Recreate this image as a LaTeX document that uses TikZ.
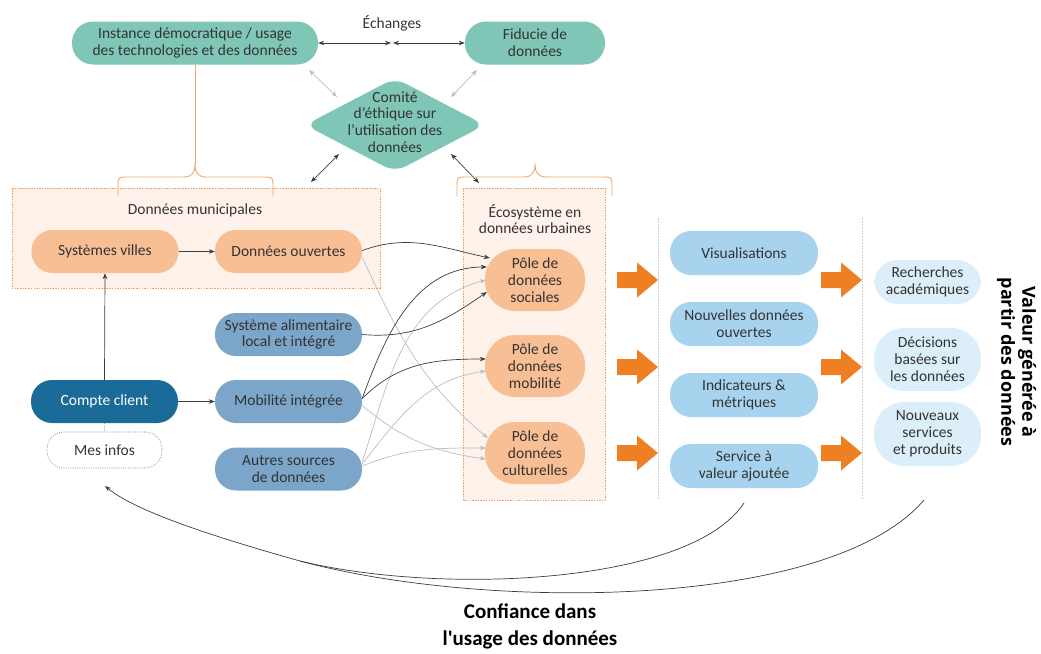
\documentclass[tikz,border=0pt]{standalone}
\usepackage{fontspec}
\setmainfont{Carlito}
\newfontfamily\opensans{Open Sans}
\newfontfamily\plaincarlito{Carlito}[Ligatures=TeXOff]
\usetikzlibrary{arrows.meta,shapes.geometric,calc}

\definecolor{cText}{HTML}{333333}
\definecolor{cTeal}{HTML}{80C6B6}
\definecolor{cPeach}{HTML}{F8BE94}
\definecolor{cPeachBg}{HTML}{FEF2EA}
\definecolor{cFrame}{HTML}{F2A060}
\definecolor{cBrace}{HTML}{F2A766}
\definecolor{cSrc}{HTML}{7BA6C9}
\definecolor{cClient}{HTML}{1B6B98}
\definecolor{cOut}{HTML}{A8D3EE}
\definecolor{cValue}{HTML}{DCEEF9}
\definecolor{cBlock}{HTML}{EE7F22}
\definecolor{cDark}{HTML}{3C3C3C}
\definecolor{cLight}{HTML}{BDBDBD}
\definecolor{cSep}{HTML}{D0D0D0}
\definecolor{cInfo}{HTML}{5B8DB8}

\tikzset{
  pill/.style={rounded corners=21pt, minimum width=147pt, minimum height=43pt,
    align=center, inner sep=2pt, text=cText},
  teal pill/.style={pill, fill=cTeal},
  peach pill/.style={pill, fill=cPeach},
  src pill/.style={pill, fill=cSrc},
  out pill/.style={pill, fill=cOut, minimum width=148pt, minimum height=44pt},
  value pill/.style={pill, fill=cValue, minimum width=107pt, rounded corners=24pt},
  hub/.style={rounded corners=30pt, minimum width=100pt, minimum height=62pt,
    align=center, inner sep=1pt, fill=cPeach, text=cText},
  frame/.style={draw=cFrame, fill=cPeachBg, line width=0.6pt,
    dash pattern=on 1.5pt off 1.2pt},
  bracket/.style={draw=cBrace, line width=0.9pt},
  dk/.style={draw=cDark, line width=0.7pt, -{Stealth[length=6pt,width=4.5pt]}},
  dkline/.style={draw=cDark, line width=0.7pt},
  dkboth/.style={draw=cDark, line width=0.7pt,
    {Stealth[length=6pt,width=4.5pt]}-{Stealth[length=6pt,width=4.5pt]}},
  grboth/.style={draw=cLight, line width=0.7pt,
    {Stealth[length=6pt,width=4.5pt]}-{Stealth[length=6pt,width=4.5pt]}},
  gr/.style={draw=cLight, line width=0.7pt, -{Stealth[length=6pt,width=4.5pt]}},
  sep/.style={draw=cSep, line width=0.6pt, dash pattern=on 1.5pt off 1.5pt},
  block/.style={fill=cBlock},
}

\begin{document}
\begin{tikzpicture}[x=1pt, y=-1pt, font=\fontsize{15.5}{16.8}\selectfont, text=cText]
\useasboundingbox (0,0) rectangle (1041,653);

% ---- framed groups
\draw[frame] (12,188) rectangle (380,288);
\draw[frame] (463,188) rectangle (605,500);
\node (lblmun) at (195,210) {Données municipales};
\node[align=center] (lbleco) at (535,219) {Écosystème en\\données urbaines};

% ---- governance
\node[teal pill, minimum width=246pt] (inst) at (195,43)
  {Instance démocratique / usage\\des technologies et des données};
\node[teal pill, minimum width=140pt] (fid) at (535,43) {Fiducie de\\données};
\node (ech) at (392,23) {Échanges};
\coordinate (mid) at (392,43);
\draw[dkboth] (inst.east) -- ([xshift=-1pt]mid);
\draw[dkboth] ([xshift=1pt]mid) -- (fid.west);

\node[diamond, fill=cTeal, rounded corners=12pt, minimum width=180pt,
  minimum height=94pt, inner sep=0pt] (comite) at (395,125) {};
\node[align=center] (comtxt) at (395,122)
  {Comité\\d’éthique sur\\l’utilisation des\\données};

\coordinate (ga1) at (309,70);  \coordinate (ga2) at (337,97);
\coordinate (gb1) at (477,70);  \coordinate (gb2) at (451,97);
\coordinate (da1) at (339,154); \coordinate (da2) at (311,182);
\coordinate (db1) at (451,154); \coordinate (db2) at (479,183);
\draw[grboth] (ga1) -- (ga2);
\draw[grboth] (gb1) -- (gb2);
\draw[dkboth] (da1) -- (da2);
\draw[dkboth] (db1) -- (db2);

% ---- brackets
\coordinate (tipA) at (195,165);
\draw[bracket] (inst.south) -- (tipA);
\draw[bracket] (118,196) -- (118,187) .. controls (118,177) .. (128,177)
  -- (184,177) .. controls (192,177) and (195,172) .. (tipA)
  .. controls (195,172) and (198,177) .. (206,177) -- (263,177)
  .. controls (273,177) .. (273,187) -- (273,196);
\coordinate (tipB) at (535,165);
\draw[bracket] (457,196) -- (457,187) .. controls (457,177) .. (467,177)
  -- (524,177) .. controls (532,177) and (535,172) .. (tipB)
  .. controls (535,172) and (538,177) .. (546,177) -- (602,177)
  .. controls (612,177) .. (612,187) -- (612,196);

% ---- municipal data and sources
\node[peach pill] (sv) at (105,251.5) {Systèmes villes};
\node[peach pill] (do) at (288.5,251.5) {Données ouvertes};
\node[src pill] (fa) at (288.5,334.5) {Système alimentaire\\local et intégré};
\node[src pill] (mi) at (288.5,401.5) {Mobilité intégrée};
\node[src pill] (as) at (288.5,469) {Autres sources\\de données};
\node[pill, fill=cClient, text=white] (cc) at (104.5,401.5) {Compte client};
\node[rounded corners=17pt, draw=cInfo, line width=0.6pt,
  dash pattern=on 1pt off 1.3pt, minimum width=115pt, minimum height=36pt,
  text=cText] (info) at (104.5,450) {Mes infos};

\draw[dk] (sv.east) -- (do.west);
\draw[dk] (cc.north) -- (sv.south);
\draw[dk] (cc.east) -- (mi.west);
\draw[draw=cSep!80!black, line width=0.6pt, dash pattern=on 1pt off 1.3pt]
  (cc.south) -- (info.north);

% ---- data hubs
\node[hub] (ps) at (535,280) {Pôle de\\données\\sociales};
\node[hub] (pm) at (535,366) {Pôle de\\données\\mobilité};
\node[hub] (pc) at (535,453) {Pôle de\\données\\culturelles};

% light links
\draw[gr] ($(do.east)+(0,6)$) to[out=-65, in=140] ($(pc.west)+(3,-15)$);
\draw[gr] ($(mi.east)+(0,4)$) to[out=-40, in=172] ($(pc.west)+(1,6)$);
\draw[gr] ($(as.east)+(0,-7)$) to[out=72, in=195] ($(ps.west)+(1,0)$);
\draw[gr] ($(as.east)+(0,-5)$) to[out=52, in=188] ($(pm.west)+(1,5)$);
\draw[gr] ($(as.east)+(0,-3)$) to[out=22, in=180] ($(pc.west)+(1,-5)$);
% dark links
\draw[dk] ($(do.east)+(0,-1)$) to[out=20, in=168] ($(ps.west)+(5,-22)$);
\draw[dk] (fa.east) to[out=-5, in=215] ($(ps.west)+(2,12)$);
\draw[dk] ($(mi.east)+(0,-3)$) to[out=70, in=180] ($(ps.west)+(2,-13)$);
\draw[dk] ($(mi.east)+(0,-3)$) to[out=45, in=180] ($(pm.west)+(1,-7)$);

% ---- separators and block arrows
\draw[sep] (658,218) -- (658,500);
\draw[sep] (862,218) -- (862,500);
\foreach \bx in {617,821}{
  \foreach \by in {280,367,453}{
    \fill[block] (\bx,\by-8) -- (\bx+20,\by-8) -- (\bx+20,\by-17.5)
      -- (\bx+41,\by) -- (\bx+20,\by+17.5) -- (\bx+20,\by+8) -- (\bx,\by+8) -- cycle;
  }
}

% ---- outputs
\node[out pill] (vis) at (744,253) {Visualisations};
\node[out pill] (nod) at (744,324) {Nouvelles données\\ouvertes};
\node[out pill] (ind) at (744,395) {Indicateurs \&\\métriques};
\node[out pill] (sva) at (744,466) {Service à\\valeur ajoutée};

% ---- generated value
\node[value pill, minimum height=44pt] (rec) at (927.5,282) {Recherches\\académiques};
\node[value pill, minimum height=63pt, rounded corners=30pt] (dec) at (927.5,359.5)
  {Décisions\\basées sur\\les données};
\node[value pill, minimum height=64pt, rounded corners=30pt] (nsp) at (927.5,434)
  {Nouveaux\\services\\et produits};
\node[rotate=-90, align=center, text=black,
  font=\opensans\bfseries\fontsize{18}{21}\selectfont] (valtxt) at (1016.5,362)
  {Valeur générée à\\partir des données};

% ---- feedback loop: two arcs merge, then one arrow back to the client
\coordinate (fbA) at (744,503);
\coordinate (fbB) at (924,500);
\coordinate (fbJoin) at (300,561);
\coordinate (fbEnd) at (105,486);
\draw[dkline] (fbA) .. controls (690,585) and (440,595) .. (fbJoin);
\draw[dkline] (fbB) .. controls (830,610) and (485,611) .. (fbJoin);
\draw[dk] (fbJoin) .. controls (240,544) and (140,515) .. (fbEnd);
\node[align=center, text=black, font=\plaincarlito\bfseries\fontsize{21}{27}\selectfont]
  (trust) at (530,626) {Confiance dans\\l'usage des données};
\end{tikzpicture}
\end{document}
